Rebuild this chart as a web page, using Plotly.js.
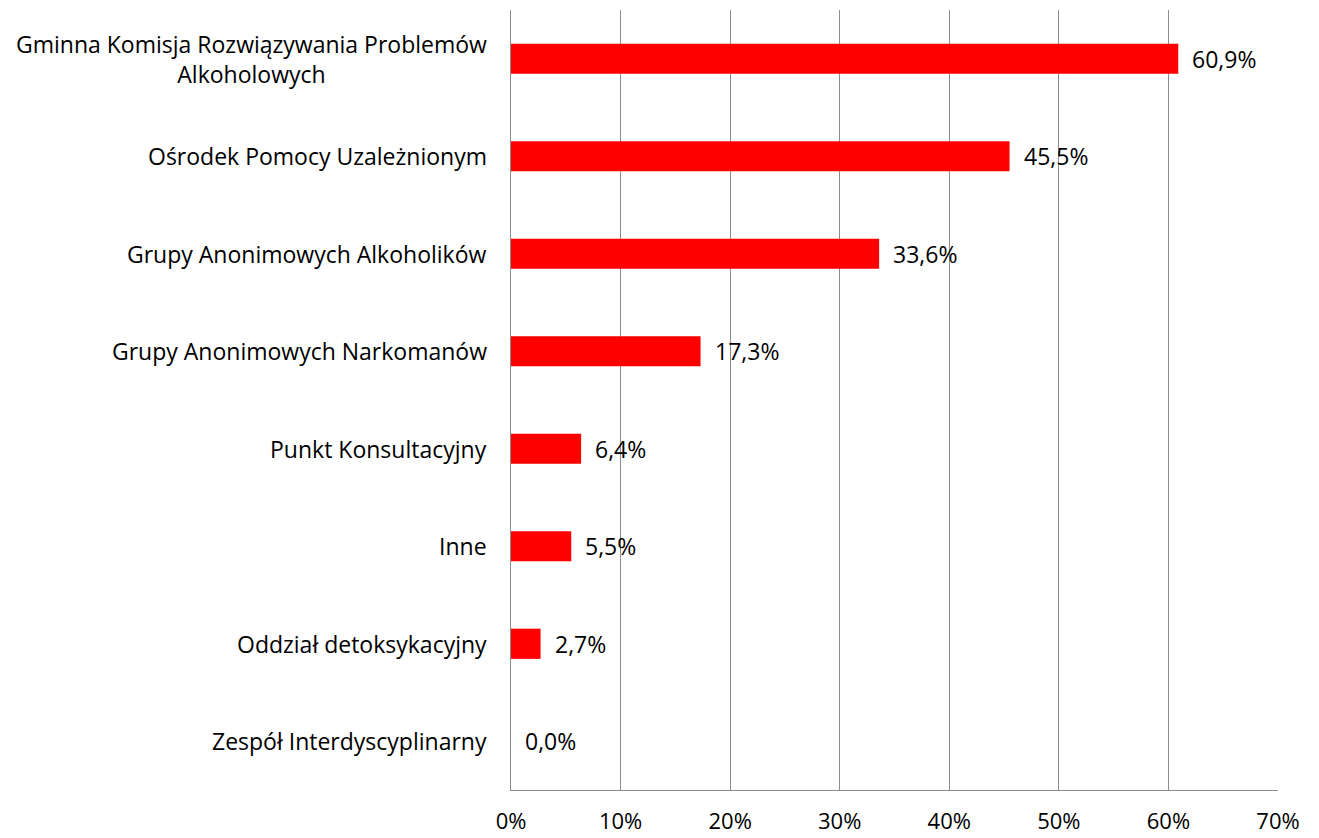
<!DOCTYPE html>
<html><head><meta charset="utf-8">
<script src="https://cdn.plot.ly/plotly-3.0.1.min.js"></script>
<style>html,body{margin:0;padding:0;background:#fff}</style>
</head><body><div id="chart" style="width:1319px;height:838px"></div>
<script>
const categories = [
  "Gminna Komisja Rozwiązywania Problemów<br>Alkoholowych",
  "Ośrodek Pomocy Uzależnionym",
  "Grupy Anonimowych Alkoholików",
  "Grupy Anonimowych Narkomanów",
  "Punkt Konsultacyjny",
  "Inne",
  "Oddział detoksykacyjny",
  "Zespół Interdyscyplinarny"
];
const values = [60.9, 45.5, 33.6, 17.3, 6.4, 5.5, 2.7, 0.0];
const tickValues = [0, 10, 20, 30, 40, 50, 60, 70];

const fontFam = "'Open Sans', sans-serif";
const fs = 23;
const labels = values.map(v => v.toFixed(1).replace('.', ',') + '%');

const trace = {
  type: 'bar', orientation: 'h',
  x: values, y: categories,
  marker: {color: '#FF0000'},
  width: 0.31,
  hoverinfo: 'none'
};

const annotations = [];
categories.forEach((c, i) => {
  annotations.push({
    xref: 'paper', yref: 'y', x: 0, y: c, xanchor: 'right', yanchor: 'middle',
    xshift: -22, text: c, showarrow: false, align: 'center',
    font: {family: fontFam, size: fs, color: '#000'}
  });
  annotations.push({
    xref: 'x', yref: 'y', x: values[i], y: c, xanchor: 'left', yanchor: 'middle',
    xshift: 12, text: labels[i], showarrow: false,
    font: {family: fontFam, size: fs, color: '#000'}
  });
});

const layout = {
  width: 1319, height: 838,
  margin: {l: 511, r: 41, t: 10, b: 48, pad: 0},
  paper_bgcolor: '#fff', plot_bgcolor: '#fff',
  showlegend: false,
  font: {family: fontFam, size: fs, color: '#000'},
  xaxis: {
    range: [0, 70], tickvals: tickValues, ticktext: tickValues.map(v => v + '%'),
    showgrid: true, gridcolor: '#8c8c8c', gridwidth: 1,
    showline: true, linecolor: '#8c8c8c', linewidth: 1,
    zeroline: false, ticks: 'outside', ticklen: 12, tickcolor: 'rgba(0,0,0,0)',
    tickfont: {family: fontFam, size: 22, color: '#000'}, fixedrange: true
  },
  yaxis: {
    categoryorder: 'array', categoryarray: categories, autorange: 'reversed',
    showticklabels: false, showgrid: false,
    showline: true, linecolor: '#8c8c8c', linewidth: 1, zeroline: false,
    fixedrange: true
  },
  annotations: annotations
};

Plotly.newPlot('chart', [trace], layout, {displayModeBar: false, staticPlot: true});
</script></body></html>
